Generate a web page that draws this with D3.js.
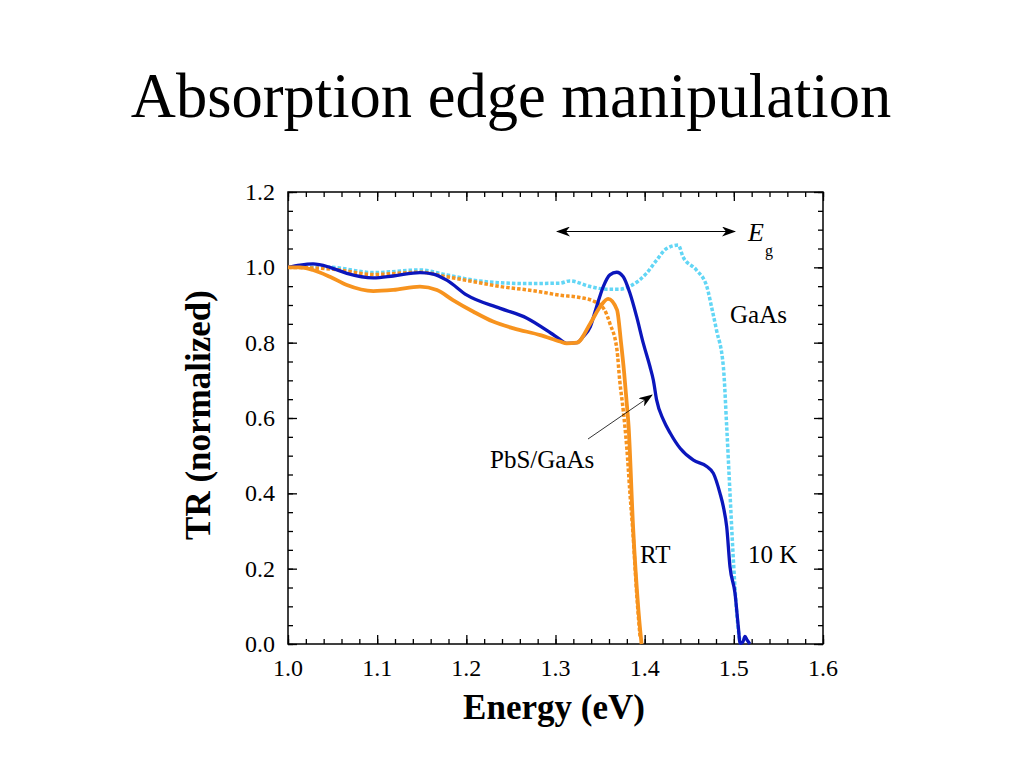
<!DOCTYPE html>
<html><head><meta charset="utf-8">
<script src="https://cdn.jsdelivr.net/npm/d3@7"></script>
<style>body{margin:0;background:#fff;}text{font-family:"Liberation Serif","Times New Roman",serif;}</style>
</head><body>
<svg id="c" width="1024" height="768"></svg>
<script>
// Data
const blueE = [1.0,1.0135,1.028,1.047,1.066,1.0957,1.118,1.148,1.163,1.178,1.2007,1.238,1.268,1.295,1.305,1.3125,1.324,1.331,1.339,1.346,1.3536,1.361,1.3686,1.376,1.3835,1.391,1.3985,1.406,1.4097,1.4134,1.421,1.4289,1.44,1.4547,1.4697,1.4771,1.4845,1.4883,1.492,1.4957,1.5013,1.505,1.507,1.510,1.5125,1.515,1.518];
const blueV = [1.0,1.006,1.009,1.0,0.984,0.972,0.977,0.986,0.982,0.966,0.926,0.891,0.865,0.825,0.809,0.798,0.800,0.816,0.842,0.895,0.949,0.98,0.987,0.975,0.931,0.869,0.798,0.736,0.701,0.648,0.595,0.559,0.519,0.488,0.471,0.453,0.400,0.364,0.311,0.205,0.135,0.046,0.002,0.005,0.02,0.01,0.0];
const orangeE = [1.0,1.0135,1.028,1.047,1.066,1.0957,1.118,1.148,1.167,1.185,1.208,1.23,1.253,1.283,1.305,1.3125,1.324,1.339,1.35,1.359,1.369,1.3735,1.377,1.3795,1.382,1.387,1.393,1.3965];
const orangeV = [1.0,1.0,0.993,0.975,0.953,0.937,0.940,0.949,0.940,0.913,0.882,0.856,0.838,0.820,0.803,0.798,0.800,0.851,0.895,0.916,0.887,0.80,0.72,0.65,0.577,0.311,0.09,0.0];
const orangeDotE = [1.0,1.051,1.0957,1.148,1.178,1.208,1.238,1.268,1.2826,1.305,1.327,1.344,1.355,1.361,1.369,1.372,1.376,1.380,1.3835,1.387,1.391,1.3948];
const orangeDotV = [1.0,0.995,0.981,0.987,0.975,0.962,0.949,0.940,0.935,0.926,0.920,0.909,0.887,0.851,0.780,0.70,0.62,0.52,0.40,0.29,0.135,0.02];
const cyanE = [1.0,1.047,1.0957,1.148,1.178,1.208,1.238,1.268,1.305,1.316,1.339,1.357,1.372,1.3835,1.402,1.4134,1.4246,1.4377,1.443,1.458,1.4697,1.475,1.4805,1.4883,1.492,1.4957,1.4995,1.503,1.506,1.508];
const cyanV = [1.0,1.0,0.986,0.993,0.980,0.966,0.959,0.957,0.958,0.964,0.949,0.942,0.942,0.950,0.984,1.019,1.050,1.059,1.028,0.993,0.949,0.895,0.834,0.735,0.577,0.400,0.223,0.09,0.02,0.0];
const xTicks = [1.0,1.1,1.2,1.3,1.4,1.5,1.6];
const yTicks = [0.0,0.2,0.4,0.6,0.8,1.0,1.2];

const svg = d3.select("#c");
const L=288,R=823,T=192,B=644;
const x = d3.scaleLinear().domain([1.0,1.6]).range([L,R]);
const y = d3.scaleLinear().domain([0,1.2]).range([B,T]);

// title
svg.append("text").attr("x",511).attr("y",117).attr("text-anchor","middle")
  .attr("font-size",62.5).text("Absorption edge manipulation");

// ticks
const xMinor = d3.range(1.0,1.6001,0.02), yMinor = d3.range(0,1.2001,0.05);
const g = svg.append("g");
function ax(axisFn, scale, ticks, len, tr){
  const a = g.append("g").attr("transform",tr)
    .call(axisFn(scale).tickValues(ticks).tickSize(len).tickFormat(""));
  a.select(".domain").remove();
  a.selectAll("line").attr("stroke","#000").attr("stroke-width",1.3);
}
ax(d3.axisTop, x, xMinor, 5, `translate(0,${B})`);
ax(d3.axisTop, x, xTicks, 9, `translate(0,${B})`);
ax(d3.axisBottom, x, xMinor, 5, `translate(0,${T})`);
ax(d3.axisBottom, x, xTicks, 9, `translate(0,${T})`);
ax(d3.axisRight, y, yMinor, 5, `translate(${L},0)`);
ax(d3.axisRight, y, yTicks, 9, `translate(${L},0)`);
ax(d3.axisLeft, y, yMinor, 5, `translate(${R},0)`);
ax(d3.axisLeft, y, yTicks, 9, `translate(${R},0)`);
g.append("rect").attr("x",L).attr("y",T).attr("width",R-L).attr("height",B-T)
  .attr("fill","none").attr("stroke","#000").attr("stroke-width",1.5);

// tick labels
svg.selectAll(".xl").data(xTicks).enter().append("text")
  .attr("x",d=>x(d)).attr("y",676).attr("text-anchor","middle").attr("font-size",24)
  .text(d=>d.toFixed(1));
svg.selectAll(".yl").data(yTicks).enter().append("text")
  .attr("x",275).attr("y",d=>y(d)+8).attr("text-anchor","end").attr("font-size",24)
  .text(d=>d.toFixed(1));

// axis titles
svg.append("text").attr("x",554).attr("y",719).attr("text-anchor","middle")
  .attr("font-size",35).attr("font-weight","bold").text("Energy (eV)");
svg.append("text").attr("transform","translate(210,415) rotate(-90)").attr("text-anchor","middle")
  .attr("font-size",35).attr("font-weight","bold").text("TR (normalized)");

// lines
const line = d3.line().x(d=>x(d[0])).y(d=>y(d[1])).curve(d3.curveMonotoneX);
const zip=(a,b)=>a.map((v,i)=>[v,b[i]]);
const lg = svg.append("g");
lg.append("path").datum(zip(cyanE,cyanV)).attr("d",line).attr("fill","none")
  .attr("stroke","#62d6f5").attr("stroke-width",3.5).attr("stroke-dasharray","3.5,2");
lg.append("path").datum(zip(orangeDotE,orangeDotV)).attr("d",line).attr("fill","none")
  .attr("stroke","#f7931e").attr("stroke-width",3.5).attr("stroke-dasharray","3.5,2");
lg.append("path").datum(zip(blueE,blueV)).attr("d",line).attr("fill","none")
  .attr("stroke","#0b16bc").attr("stroke-width",3.3).attr("stroke-linejoin","round");
lg.append("path").datum(zip(orangeE,orangeV)).attr("d",line).attr("fill","none")
  .attr("stroke","#f7931e").attr("stroke-width",3.8).attr("stroke-linejoin","round");

// annotations
const defs = svg.append("defs");
defs.append("marker").attr("id","ah").attr("viewBox","0 0 14 10").attr("refX",13).attr("refY",5)
  .attr("markerWidth",14).attr("markerHeight",10).attr("markerUnits","userSpaceOnUse").attr("orient","auto-start-reverse")
  .append("path").attr("d","M0,0 L14,5 L0,10 L4,5 Z").attr("fill","#000");
svg.append("line").attr("x1",557).attr("y1",231.5).attr("x2",735).attr("y2",231.5)
  .attr("stroke","#000").attr("stroke-width",1).attr("marker-start","url(#ah)").attr("marker-end","url(#ah)");
svg.append("text").attr("x",748).attr("y",241).attr("font-size",26).attr("font-style","italic").text("E");
svg.append("text").attr("x",765).attr("y",256).attr("font-size",16).text("g");
svg.append("text").attr("x",730).attr("y",323).attr("font-size",25).text("GaAs");
svg.append("text").attr("x",490).attr("y",468).attr("font-size",25).text("PbS/GaAs");
svg.append("line").attr("x1",588).attr("y1",439).attr("x2",652).attr("y2",395)
  .attr("stroke","#000").attr("stroke-width",0.8).attr("marker-end","url(#ah)");
svg.append("text").attr("x",640).attr("y",563).attr("font-size",25).text("RT");
svg.append("text").attr("x",748).attr("y",563).attr("font-size",25).text("10 K");
</script>
</body></html>
